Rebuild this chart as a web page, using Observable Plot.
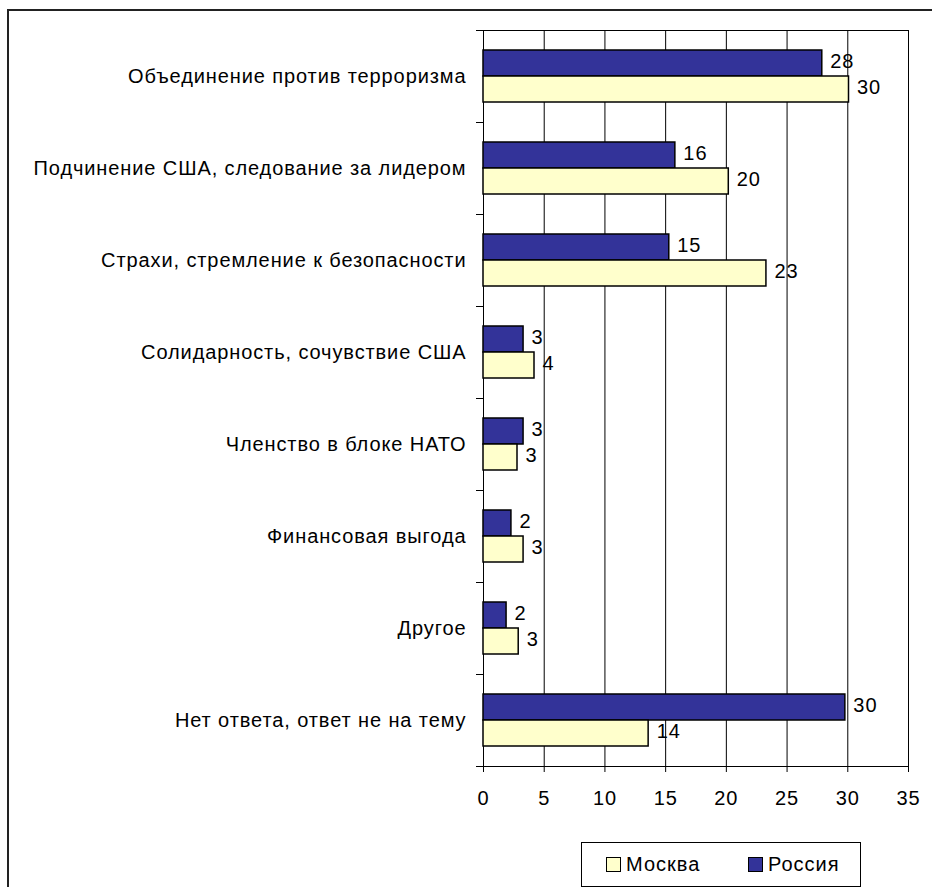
<!DOCTYPE html>
<html>
<head>
<meta charset="utf-8">
<script src="https://cdn.jsdelivr.net/npm/d3@7"></script>
<script src="https://cdn.jsdelivr.net/npm/@observablehq/plot@0.6"></script>
<style>
  html, body { margin: 0; padding: 0; background: #fff; }
  body { position: relative; width: 932px; height: 887px; overflow: hidden; font-family: "Liberation Sans", Arial, sans-serif; }
  #border { position: absolute; left: 7px; top: 9px; width: 1000px; height: 1000px; border-left: 2px solid #222; border-top: 2px solid #222; }
  #chart { position: absolute; left: 0; top: 0; }
  #chart svg text { letter-spacing: 0.9px; }
  #legend { position: absolute; left: 581px; top: 842px; width: 278px; height: 43px; border: 1px solid #000; background: #fff; font-size: 20px; letter-spacing: 1px; }
  .item { position: absolute; top: 0; height: 43px; display: flex; align-items: center; }
  .sw { width: 13px; height: 13px; border: 1.5px solid #000; margin-right: 5px; }
</style>
</head>
<body>
<div id="border"></div>
<div id="chart"></div>
<div id="legend"></div>
<script>
const categories = [
  "Объединение против терроризма",
  "Подчинение США, следование за лидером",
  "Страхи, стремление к безопасности",
  "Солидарность, сочувствие США",
  "Членство в блоке НАТО",
  "Финансовая выгода",
  "Другое",
  "Нет ответа, ответ не на тему"
];
const russia = [27.9, 15.8, 15.3, 3.3, 3.3, 2.3, 1.9, 29.8];
const moscow = [30.1, 20.2, 23.3, 4.2, 2.8, 3.3, 2.9, 13.6];
const russiaLabels = ["28", "16", "15", "3", "3", "2", "2", "30"];
const moscowLabels = ["30", "20", "23", "4", "3", "3", "3", "14"];
const series = ["Москва", "Россия"];
const seriesColors = ["#FFFFCC", "#333399"];
const xTicks = [0, 5, 10, 15, 20, 25, 30, 35];

const rows = [];
categories.forEach((c, i) => {
  rows.push({category: c, series: "Россия", value: russia[i], label: russiaLabels[i]});
  rows.push({category: c, series: "Москва", value: moscow[i], label: moscowLabels[i]});
});

const W = 932, H = 820, mT = 30, mB = 54, mL = 483, mR = 24;
const bandH = (H - mT - mB) / categories.length;

const chart = Plot.plot({
  width: W, height: H,
  marginTop: mT, marginBottom: mB, marginLeft: mL, marginRight: mR,
  style: {fontFamily: "'Liberation Sans', Arial, sans-serif", fontSize: "20px", color: "#000", background: "transparent", overflow: "visible"},
  x: {domain: [0, 35], label: null},
  y: {domain: ["Россия", "Москва"], paddingInner: 0, paddingOuter: 0.75, axis: null},
  fy: {domain: categories, padding: 0, label: null},
  color: {domain: series, range: seriesColors},
  marks: [
    Plot.gridX(xTicks, {stroke: "#000", strokeOpacity: 1, strokeWidth: 1}),
    Plot.frame({anchor: "top", facetAnchor: "top", stroke: "#000"}),
    Plot.frame({anchor: "bottom", facetAnchor: "bottom", stroke: "#000"}),
    Plot.barX(rows, {fy: "category", y: "series", x: "value", fill: "series", stroke: "#000", strokeWidth: 1.5}),
    Plot.text(rows, {fy: "category", y: "series", x: "value", text: "label", textAnchor: "start", dx: 8, dy: -2, fill: "#000"}),
    Plot.axisX({anchor: "bottom", ticks: xTicks, tickSize: 6, tickPadding: 18, label: null, stroke: "#000"}),
    Plot.axisFy({anchor: "left", tickSize: 0, tickPadding: 17, label: null}),
    Plot.axisFy({anchor: "left", tickSize: 7, tickFormat: () => "", label: null, dy: -bandH / 2}),
    Plot.axisFy({anchor: "left", ticks: [categories[categories.length - 1]], tickSize: 7, tickFormat: () => "", label: null, dy: bandH / 2})
  ]
});
document.getElementById("chart").appendChild(chart);

const legend = document.getElementById("legend");
const legendX = [24, 166];
series.forEach((s, i) => {
  const item = document.createElement("div");
  item.className = "item";
  item.style.left = legendX[i] + "px";
  const sw = document.createElement("div");
  sw.className = "sw";
  sw.style.background = seriesColors[i];
  const t = document.createElement("span");
  t.textContent = s;
  item.appendChild(sw);
  item.appendChild(t);
  legend.appendChild(item);
});
</script>
</body>
</html>
